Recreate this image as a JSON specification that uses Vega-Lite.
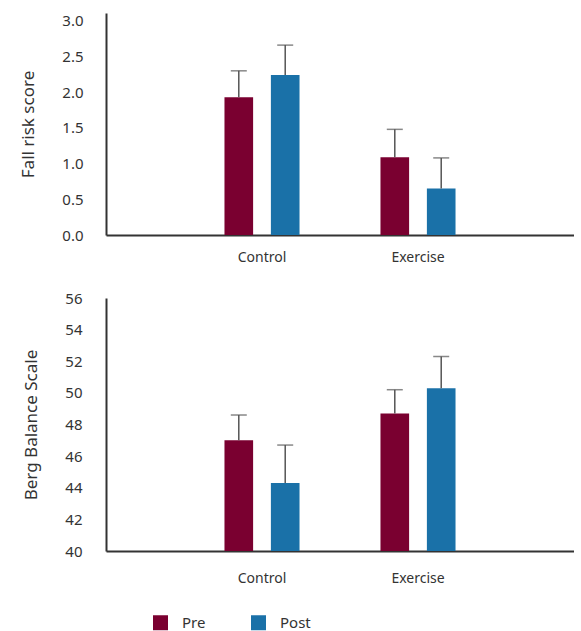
{
  "$schema": "https://vega.github.io/schema/vega-lite/v6.json",
  "padding": {"left": 19, "top": 13, "right": 0, "bottom": 0},
  "background": "white",
  "datasets": {
    "fall": [
      {"group": "Control", "time": "Pre", "mean": 1.93, "upper": 2.30},
      {"group": "Control", "time": "Post", "mean": 2.24, "upper": 2.66},
      {"group": "Exercise", "time": "Pre", "mean": 1.09, "upper": 1.48},
      {"group": "Exercise", "time": "Post", "mean": 0.65, "upper": 1.08}
    ],
    "berg": [
      {"group": "Control", "time": "Pre", "mean": 47.0, "upper": 48.6},
      {"group": "Control", "time": "Post", "mean": 44.3, "upper": 46.7},
      {"group": "Exercise", "time": "Pre", "mean": 48.7, "upper": 50.2},
      {"group": "Exercise", "time": "Post", "mean": 50.3, "upper": 52.3}
    ]
  },
  "config": {
    "font": "Noto Sans",
    "view": {"stroke": null},
    "axis": {"labelFont": "Noto Sans", "titleFont": "Noto Sans", "labelColor": "#333333", "titleColor": "#333333", "titleFontWeight": "normal", "grid": false, "ticks": false, "domainColor": "#333333", "domainWidth": 2, "labelOverlap": false},
    "legend": {"labelFont": "Noto Sans"}
  },
  "spacing": 27,
  "vconcat": [
    {
      "width": 468,
      "height": 222,
      "data": {"name": "fall"},
      "encoding": {
        "x": {"field": "group", "type": "nominal", "title": null, "scale": {"domain": ["Control", "Exercise"], "paddingInner": 0, "paddingOuter": 0.5}, "axis": {"labelAngle": 0, "labelFontSize": 14, "labelPadding": 15}},
        "xOffset": {"field": "time", "type": "nominal", "scale": {"domain": ["Pre", "Post"], "paddingInner": 0.383, "paddingOuter": 0.872}}
      },
      "layer": [
        {
          "mark": {"type": "bar"},
          "encoding": {
            "y": {"field": "mean", "type": "quantitative", "title": "Fall risk score", "scale": {"domain": [0, 3.11], "nice": false}, "axis": {"values": [0, 0.5, 1, 1.5, 2, 2.5, 3], "format": ".1f", "labelFontSize": 15, "labelPadding": 23, "titleFontSize": 17, "titlePadding": 24}},
            "color": {"field": "time", "type": "nominal", "scale": {"domain": ["Pre", "Post"], "range": ["#7A0030", "#1A71A8"]}, "legend": {"title": null, "orient": "none", "legendX": 47, "legendY": 602, "direction": "horizontal", "symbolType": "square", "symbolSize": 225, "symbolStrokeWidth": 0, "labelFontSize": 15, "labelOffset": 14, "columnPadding": 45, "labelColor": "#333333"}}
          }
        },
        {
          "mark": {"type": "rule", "color": "#555555", "strokeWidth": 1.5},
          "encoding": {"y": {"field": "mean", "type": "quantitative", "title": "Fall risk score", "axis": {"values": [0, 0.5, 1, 1.5, 2, 2.5, 3], "format": ".1f", "labelFontSize": 15, "labelPadding": 23, "titleFontSize": 17, "titlePadding": 24}}, "y2": {"field": "upper"}}
        },
        {
          "mark": {"type": "tick", "color": "#555555", "thickness": 1.5, "size": 16},
          "encoding": {"y": {"field": "upper", "type": "quantitative", "title": "Fall risk score", "axis": {"values": [0, 0.5, 1, 1.5, 2, 2.5, 3], "format": ".1f", "labelFontSize": 15, "labelPadding": 23, "titleFontSize": 17, "titlePadding": 24}}}
        }
      ]
    },
    {
      "width": 468,
      "height": 253,
      "data": {"name": "berg"},
      "encoding": {
        "x": {"field": "group", "type": "nominal", "title": null, "scale": {"domain": ["Control", "Exercise"], "paddingInner": 0, "paddingOuter": 0.5}, "axis": {"labelAngle": 0, "labelFontSize": 14, "labelPadding": 20}},
        "xOffset": {"field": "time", "type": "nominal", "scale": {"domain": ["Pre", "Post"], "paddingInner": 0.383, "paddingOuter": 0.872}}
      },
      "layer": [
        {
          "mark": {"type": "bar"},
          "encoding": {
            "y": {"field": "mean", "type": "quantitative", "title": "Berg Balance Scale", "scale": {"domain": [40, 56], "nice": false, "zero": false}, "axis": {"values": [40, 42, 44, 46, 48, 50, 52, 54, 56], "labelFontSize": 15, "labelPadding": 24, "titleFontSize": 17, "titlePadding": 24}},
            "y2": {"datum": 40},
            "color": {"field": "time", "type": "nominal"}
          }
        },
        {
          "mark": {"type": "rule", "color": "#555555", "strokeWidth": 1.5},
          "encoding": {"y": {"field": "mean", "type": "quantitative", "title": "Berg Balance Scale", "axis": {"values": [40, 42, 44, 46, 48, 50, 52, 54, 56], "labelFontSize": 15, "labelPadding": 24, "titleFontSize": 17, "titlePadding": 24}}, "y2": {"field": "upper"}}
        },
        {
          "mark": {"type": "tick", "color": "#555555", "thickness": 1.5, "size": 16},
          "encoding": {"y": {"field": "upper", "type": "quantitative", "title": "Berg Balance Scale", "axis": {"values": [40, 42, 44, 46, 48, 50, 52, 54, 56], "labelFontSize": 15, "labelPadding": 24, "titleFontSize": 17, "titlePadding": 24}}}
        }
      ]
    }
  ]
}
